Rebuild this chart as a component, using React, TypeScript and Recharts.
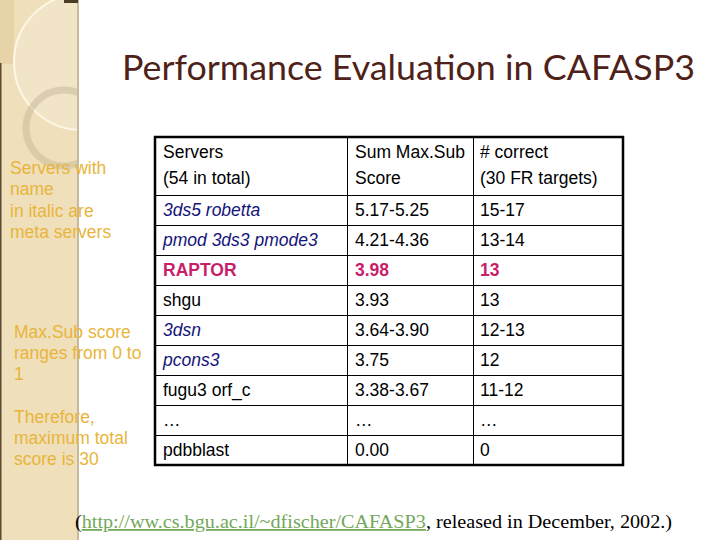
import React from "react";
import { BarChart, Bar, XAxis, YAxis } from "recharts";

// ---------- data ----------
const headerLines: string[][] = [
  ["Servers", "(54 in total)"],
  ["Sum Max.Sub", "Score"],
  ["# correct", "(30 FR targets)"],
];
const servers = ["3ds5 robetta", "pmod 3ds3 pmode3", "RAPTOR", "shgu", "3dsn", "pcons3", "fugu3 orf_c", "…", "pdbblast"];
const sumMaxSub = ["5.17-5.25", "4.21-4.36", "3.98", "3.93", "3.64-3.90", "3.75", "3.38-3.67", "…", "0.00"];
const numCorrect = ["15-17", "13-14", "13", "13", "12-13", "12", "11-12", "…", "0"];
const serverKind = ["meta", "meta", "raptor", "plain", "meta", "meta", "plain", "plain", "plain"];

const title = "Performance Evaluation in CAFASP3";
const noteTop = ["Servers with", "name", "in italic are", "meta servers"];
const noteMid = ["Max.Sub score", "ranges from 0 to", "1"];
const noteBottom = ["Therefore,", "maximum total", "score is 30"];
const footerLink = "http://ww.cs.bgu.ac.il/~dfischer/CAFASP3";
const footerRest = ", released in December, 2002.)";

// ---------- layout ----------
const COLS = [192, 126, 150];
const TABLE_W = COLS[0] + COLS[1] + COLS[2];
const TABLE_X = 155;
const TABLE_Y = 137;
const HEADER_H = 58;
const ROW_H = 30;
const FONT = "'Liberation Sans', Arial, sans-serif";
const FS = 17.5;

const headerRows = [
  {
    id: "h",
    kind: "header",
    t0: headerLines[0],
    t1: headerLines[1],
    t2: headerLines[2],
    w0: COLS[0],
    w1: COLS[1],
    w2: COLS[2],
  },
];

const bodyRows = servers.map((s, i) => ({
  id: `r${i}`,
  kind: serverKind[i],
  t0: s,
  t1: sumMaxSub[i],
  t2: numCorrect[i],
  w0: COLS[0],
  w1: COLS[1],
  w2: COLS[2],
}));

const padX = [8, 8, 7];

function makeCell(col: number) {
  return (props: any) => {
    const { x, y, width, height, payload } = props;
    const text = payload[`t${col}`];
    const kind = payload.kind;
    let fill = "#000";
    let fontStyle = "normal";
    let fontWeight: any = "normal";
    if (kind === "meta" && col === 0) {
      fill = "#14147a";
      fontStyle = "italic";
    }
    if (kind === "raptor") {
      fill = "#c81e6a";
      fontWeight = "bold";
    }
    const tx = x + padX[col];
    return (
      <g>
        <rect
          x={x}
          y={y}
          width={width}
          height={height}
          fill="#fff"
          stroke="#000"
          strokeWidth={1}
          shapeRendering="crispEdges"
        />
        {Array.isArray(text) ? (
          text.map((t: string, k: number) => (
            <text
              key={k}
              x={tx}
              y={y + 15 + k * 26}
              dominantBaseline="central"
              fontFamily={FONT}
              fontSize={FS}
              fill="#000"
            >
              {t}
            </text>
          ))
        ) : (
          <text
            x={tx}
            y={y + height / 2}
            dominantBaseline="central"
            fontFamily={FONT}
            fontSize={FS}
            fill={fill}
            fontStyle={fontStyle}
            fontWeight={fontWeight}
          >
            {text}
          </text>
        )}
      </g>
    );
  };
}

function TablePart({ data, height }: { data: any[]; height: number }) {
  return (
    <BarChart
      layout="vertical"
      width={TABLE_W}
      height={height}
      data={data}
      margin={{ top: 0, right: 0, bottom: 0, left: 0 }}
      barCategoryGap={0}
      barGap={0}
    >
      <XAxis type="number" hide domain={[0, TABLE_W]} />
      <YAxis type="category" dataKey="id" hide />
      {[0, 1, 2].map((c) => (
        <Bar
          key={c}
          dataKey={`w${c}`}
          stackId="t"
          isAnimationActive={false}
          shape={makeCell(c)}
        />
      ))}
    </BarChart>
  );
}

const GOLD = "#e8b53a";

export default function App() {
  return (
    <div
      style={{
        position: "absolute",
        left: 0,
        top: 0,
        width: 720,
        height: 540,
        background: "#fff",
        overflow: "hidden",
      }}
    >
      {/* background decoration */}
      <svg width={720} height={540} style={{ position: "absolute", left: 0, top: 0 }}>
        <defs>
          <clipPath id="strip">
            <rect x={0} y={0} width={77} height={540} />
          </clipPath>
        </defs>
        <rect x={0} y={0} width={77} height={540} fill="#efdfbb" />
        <g clipPath="url(#strip)">
          <rect x={0} y={0} width={14} height={64} fill="#e6d3a8" />
          <circle cx={82} cy={62} r={68} fill="rgba(255,255,255,0.18)" stroke="rgba(255,250,235,0.9)" strokeWidth={2} />
          <circle cx={64} cy={128} r={38} fill="none" stroke="rgba(200,185,155,0.55)" strokeWidth={7} />
        </g>
        <rect x={77} y={0} width={2} height={540} fill="#c8b99c" />
        <rect x={0} y={63} width={1.5} height={477} fill="#5c4a33" />
        <rect x={64} y={0} width={14} height={3} fill="#4a3a26" />
      </svg>

      {/* table */}
      <div style={{ position: "absolute", left: TABLE_X, top: TABLE_Y }}>
        <TablePart data={headerRows} height={HEADER_H} />
      </div>
      <div style={{ position: "absolute", left: TABLE_X, top: TABLE_Y + HEADER_H }}>
        <TablePart data={bodyRows} height={ROW_H * bodyRows.length} />
      </div>

      {/* foreground texts */}
      <svg
        width={720}
        height={540}
        style={{ position: "absolute", left: 0, top: 0, pointerEvents: "none" }}
      >
        <rect
          x={TABLE_X}
          y={TABLE_Y}
          width={TABLE_W}
          height={HEADER_H + ROW_H * bodyRows.length}
          fill="none"
          stroke="#000"
          strokeWidth={2.5}
        />
        <text
          x={122}
          y={80}
          fontFamily="Lato, 'Noto Sans', sans-serif"
          fontSize={35}
          fill="#4f2219"
          textLength={573}
          lengthAdjust="spacingAndGlyphs"
        >
          {title}
        </text>
        {noteTop.map((t, i) => (
          <text key={t} x={10} y={168 + i * 21.3} dominantBaseline="central" fontFamily={FONT} fontSize={FS} fill={GOLD}>
            {t}
          </text>
        ))}
        {noteMid.map((t, i) => (
          <text key={t} x={14} y={331.5 + i * 21} dominantBaseline="central" fontFamily={FONT} fontSize={FS} fill={GOLD}>
            {t}
          </text>
        ))}
        {noteBottom.map((t, i) => (
          <text key={t} x={14} y={417 + i * 21} dominantBaseline="central" fontFamily={FONT} fontSize={FS} fill={GOLD}>
            {t}
          </text>
        ))}
        <text
          x={75}
          y={528}
          fontFamily="'Liberation Serif', 'Times New Roman', serif"
          fontSize={18}
          fill="#000"
          textLength={597}
          lengthAdjust="spacingAndGlyphs"
        >
          (
          <tspan fill="#72a85a" textDecoration="underline">
            {footerLink}
          </tspan>
          {footerRest}
        </text>
      </svg>
    </div>
  );
}
